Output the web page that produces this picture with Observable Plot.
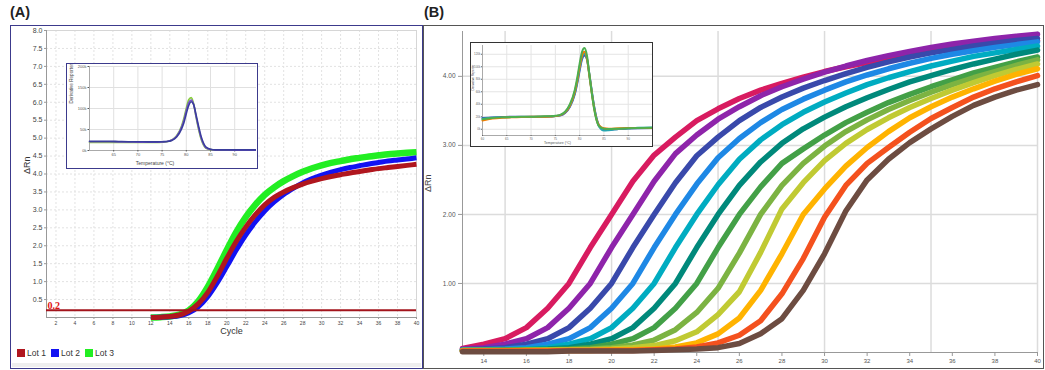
<!DOCTYPE html>
<html><head><meta charset="utf-8">
<script src="https://cdn.jsdelivr.net/npm/d3@7"></script>
<script src="https://cdn.jsdelivr.net/npm/@observablehq/plot@0.6"></script>
<style>
body{margin:0;background:#fff;}
#root{position:relative;width:1045px;height:370px;overflow:hidden;background:#fff;font-family:Arial,"Liberation Sans",sans-serif;}
#root svg{position:absolute;}
</style></head><body><div id="root"></div>
<script>
// ---------- Panel A : amplification curves, three lots ----------
const cyclesA = [12,13,14,15,16,17,18,19,20,21,22,23,24,25,26,27,28,29,30,31,32,33,34,35,36,37,38,39,40];
const lot1 = [0,0.01,0.03,0.07,0.18,0.38,0.7,1.15,1.65,2.12,2.52,2.86,3.14,3.35,3.5,3.62,3.72,3.8,3.87,3.93,3.98,4.03,4.07,4.11,4.15,4.18,4.21,4.24,4.27];
const lot2 = [0,0.01,0.02,0.05,0.13,0.3,0.58,0.97,1.42,1.88,2.3,2.66,2.97,3.22,3.43,3.6,3.75,3.87,3.97,4.05,4.12,4.18,4.23,4.28,4.32,4.36,4.39,4.42,4.45];
const lot3 = [0,0.01,0.03,0.08,0.2,0.45,0.85,1.35,1.88,2.38,2.8,3.14,3.42,3.63,3.8,3.94,4.06,4.16,4.24,4.31,4.36,4.41,4.45,4.49,4.52,4.55,4.57,4.59,4.61];
const lotNames = ["Lot 1","Lot 2","Lot 3"];
const lotColors = ["#b0161e","#1212f2","#22ee22"];
const threshold = 0.2;
const xTicksA = [2,4,6,8,10,12,14,16,18,20,22,24,26,28,30,32,34,36,38,40];
const yTicksA = [0.5,1,1.5,2,2.5,3,3.5,4,4.5,5,5.5,6,6.5,7,7.5,8];

// Panel A inset : melt curves (k)
const tempsA = [60,62,64,66,68,70,72,74,75,76,77,78,79,79.5,80,80.5,81,81.5,82,82.5,83,83.5,84,85,86,88,90,92,95];
const meltA1 = [21,21,21,20.5,20.5,20,20,20,20.5,21.5,25,34,55,72,95,114,120,110,82,55,32,16,7,2.5,1.5,1.2,1,1,1];
const meltA2 = [19,19,19,19,19,19,19,19,19.5,21,25,35,58,77,101,121,126,112,80,52,29,14,6,2,1,1,1,1,1];
const meltA3 = [22,22,22,21.5,21,21,20.5,20.5,21,21.5,24,32,51,66,88,107,116,110,86,60,36,19,9,3,1.5,1.5,1.5,1.5,1.5];
const meltAColors = ["#7a55c8","#86cc3a","#3a3d9c"];
const xTicksInsetA = [65,70,75,80,85,90];
const yTicksInsetA = [0,50,100,150,200];

// ---------- Panel B : dilution series ----------
const cyclesB = [13,14,15,16,17,18,19,20,21,22,23,24,25,26,27,28,29,30,31,32,33,34,35,36,37,38,39,40];
const crimson = [0.06,0.12,0.2,0.36,0.64,1.0,1.52,2.0,2.48,2.86,3.12,3.36,3.53,3.68,3.8,3.9,3.99,4.07,4.14,4.2,4.26,4.31,4.36,4.4,4.43,4.46,4.49,4.52];
const purple = [0.05,0.07,0.12,0.2,0.36,0.64,1.0,1.52,2.0,2.48,2.88,3.15,3.38,3.56,3.72,3.85,3.96,4.06,4.15,4.23,4.3,4.36,4.42,4.47,4.51,4.55,4.58,4.61];
const indigo = [0.04,0.05,0.07,0.12,0.2,0.36,0.64,1.0,1.52,2.0,2.46,2.85,3.12,3.36,3.55,3.7,3.83,3.94,4.04,4.13,4.21,4.28,4.34,4.39,4.44,4.48,4.52,4.55];
const blue = [0.04,0.04,0.05,0.07,0.12,0.2,0.36,0.64,1.0,1.52,2.0,2.44,2.82,3.1,3.33,3.52,3.67,3.8,3.92,4.02,4.11,4.19,4.26,4.32,4.37,4.42,4.46,4.5];
const cyan = [0.03,0.04,0.04,0.05,0.07,0.12,0.2,0.36,0.64,1.0,1.52,2.0,2.43,2.8,3.08,3.3,3.48,3.63,3.76,3.88,3.98,4.07,4.15,4.22,4.29,4.34,4.39,4.44];
const teal = [0.03,0.03,0.04,0.04,0.05,0.07,0.12,0.2,0.36,0.64,1.0,1.52,2.0,2.42,2.76,3.03,3.24,3.41,3.56,3.69,3.81,3.92,4.01,4.1,4.18,4.25,4.32,4.38];
const green = [0.03,0.03,0.03,0.04,0.04,0.05,0.07,0.12,0.2,0.36,0.64,1.0,1.52,2.0,2.4,2.74,2.95,3.15,3.33,3.48,3.62,3.74,3.85,3.95,4.05,4.13,4.21,4.28];
const lightGreen = [0.03,0.03,0.03,0.03,0.04,0.04,0.05,0.07,0.11,0.18,0.33,0.58,0.93,1.44,2.0,2.42,2.74,2.99,3.2,3.37,3.52,3.65,3.77,3.88,3.98,4.07,4.16,4.24];
const lime = [0.03,0.03,0.03,0.03,0.03,0.04,0.04,0.05,0.07,0.1,0.17,0.3,0.55,0.88,1.45,2.08,2.46,2.78,3.03,3.23,3.4,3.55,3.68,3.8,3.91,4.01,4.1,4.18];
const amber = [0.02,0.02,0.02,0.03,0.03,0.03,0.03,0.04,0.04,0.05,0.08,0.14,0.27,0.5,0.9,1.43,2.0,2.37,2.7,2.97,3.2,3.4,3.56,3.7,3.82,3.93,4.03,4.11];
const deepOrange = [0.02,0.02,0.02,0.02,0.02,0.03,0.03,0.03,0.03,0.04,0.05,0.08,0.14,0.25,0.46,0.85,1.36,1.96,2.42,2.74,2.97,3.19,3.39,3.55,3.7,3.82,3.92,4.01];
const brown = [0.01,0.01,0.01,0.01,0.01,0.02,0.02,0.02,0.02,0.03,0.04,0.05,0.07,0.13,0.27,0.49,0.9,1.43,2.05,2.5,2.8,3.04,3.24,3.42,3.58,3.7,3.8,3.88];
const seriesB = [crimson,purple,indigo,blue,cyan,teal,green,lightGreen,lime,amber,deepOrange,brown];
const colorsB = ["#d81b60","#8e24aa","#3949ab","#1e88e5","#00acc1","#00897b","#43a047","#7cb342","#c0ca33","#ffb300","#f4511e","#6d4c41"];
const xTicksB = [14,16,18,20,22,24,26,28,30,32,34,36,38,40];
const xGridB = [15,20,25,30,35,40];
const yTicksB = [1,2,3,4];

// Panel B inset : melt curves (k)
const tempsB = [60,62,64,66,68,70,72,74,75,76,77,78,79,79.5,80,80.5,81,81.5,82,82.5,83,83.5,84,85,86,88,90,92,95];
const meltB1 = [16,18,19,19.5,20,20,20.5,21,21.5,23,28,40,63,82,105,124,130,118,88,58,32,14,5,1,0.5,1,1.5,2,2.5];
const meltB2 = [14,17,18.5,19,19.5,20,20,20.5,21,22.5,27,38,60,78,100,118,124,114,86,58,33,15,6,1.5,1,1.5,2,2,2];
const meltB3 = [18,19,19.5,20,20,20,20,20.5,21,22,26,36,56,73,94,112,118,112,88,61,36,17,6,0,-1,0.5,1,1.5,2];
const meltB4 = [17,18.5,19,19.5,19.5,19.5,20,20.5,21,22.5,27,37,58,76,97,115,121,113,87,60,35,16,4,-2,-1.5,0.5,1.5,2.5,3];
const meltBColors = ["#4caf50","#f57c00","#3f51b5","#26a6b0"];
const xTicksInsetB = [60,65,70,75,80,85,90];
const yTicksInsetB = [0,20,40,60,80,100,120];

// ---------- helpers ----------
const root = document.getElementById("root");
const FONT = "Arial, 'Liberation Sans', sans-serif";
function box(left, top, w, h, css) {
  const d = document.createElement("div");
  d.style.cssText = `position:absolute;left:${left}px;top:${top}px;width:${w}px;height:${h}px;box-sizing:border-box;${css}`;
  root.appendChild(d); return d;
}
function txt(s, left, top, css) {
  const d = document.createElement("div");
  d.textContent = s;
  d.style.cssText = `position:absolute;left:${left}px;top:${top}px;white-space:nowrap;${css}`;
  root.appendChild(d); return d;
}
function put(svg, left, top) { svg.style.left = left + "px"; svg.style.top = top + "px"; root.appendChild(svg); }

// Panel labels & frames
txt("(A)", 10, 4, "font-size:14.5px;font-weight:bold;color:#222;");
txt("(B)", 424, 4, "font-size:14.5px;font-weight:bold;color:#222;");
box(423, 25, 621, 344, "border:1.5px solid #555;");
box(10, 25, 413, 344, "border:1.5px solid #3c3a8c;background:#fff;");
box(12, 363, 409, 4, "background:#eeeeee;");

// ---------- Plot A ----------
const rowsA = cyclesA.flatMap((c, i) => [
  {lot: lotNames[0], cycle: c, rn: lot1[i]},
  {lot: lotNames[1], cycle: c, rn: lot2[i]},
  {lot: lotNames[2], cycle: c, rn: lot3[i]}
]);
const plotA = Plot.plot({
  width: 410, height: 341,
  marginLeft: 35, marginRight: 5, marginTop: 4, marginBottom: 50,
  style: {background: "transparent", fontFamily: FONT, color: "#444"},
  x: {domain: [1, 40]},
  y: {domain: [0, 8]},
  marks: [
    Plot.gridX({ticks: xTicksA, stroke: "#e2e2e2", strokeOpacity: 1, strokeDasharray: "2,2"}),
    Plot.gridY({ticks: yTicksA, stroke: "#e2e2e2", strokeOpacity: 1, strokeDasharray: "2,2"}),
    Plot.frame({stroke: "#d6d6d6"}),
    Plot.ruleX([1], {stroke: "#999"}),
    Plot.ruleY([0], {stroke: "#999"}),
    Plot.axisX({ticks: xTicksA, tickSize: 2, tickPadding: 2, fontSize: 5, label: null, stroke: "#999"}),
    Plot.axisY({ticks: yTicksA, tickSize: 2, tickPadding: 2, fontSize: 7, label: null, tickFormat: d3.format(".1f"), stroke: "#999"}),
    Plot.line(rowsA.filter(d => d.lot === lotNames[2]), {x: "cycle", y: "rn", stroke: lotColors[2], strokeWidth: 6.5, strokeLinecap: "butt", curve: "monotone-x"}),
    Plot.line(rowsA.filter(d => d.lot === lotNames[1]), {x: "cycle", y: "rn", stroke: lotColors[1], strokeWidth: 5, strokeLinecap: "butt", curve: "monotone-x"}),
    Plot.line(rowsA.filter(d => d.lot === lotNames[0]), {x: "cycle", y: "rn", stroke: lotColors[0], strokeWidth: 5, strokeLinecap: "butt", curve: "monotone-x"}),
    Plot.ruleY([threshold], {stroke: "#a3141c", strokeWidth: 2}),
    Plot.text([threshold], {x: 1, y: threshold, text: d => String(d), textAnchor: "start", lineAnchor: "bottom", dx: 1, dy: -1, fill: "#e01010", fontSize: 10, fontWeight: "bold", fontFamily: "'Liberation Serif','Times New Roman',serif"}),
    Plot.text(["Cycle"], {frameAnchor: "bottom", text: d => d, dy: 16, fontSize: 9, fill: "#333"}),
    Plot.text(["ΔRn"], {frameAnchor: "left", text: d => d, dx: -19, rotate: -90, fontSize: 9, fill: "#333"})
  ]
});
put(plotA, 11, 26);

// Legend A
lotNames.forEach((n, i) => {
  const x0 = [17, 51, 85][i];
  box(x0, 349, 8, 8, `background:${lotColors[i]};`);
  txt(n, x0 + 10, 348, "font-size:8.5px;line-height:10px;color:#333;");
});

// Inset A
box(66, 63, 192, 106, "border:1.5px solid #3c3a8c;background:#fff;");
const rowsInsetA = tempsA.flatMap((t, i) => [
  {s: 0, t, v: meltA1[i]}, {s: 1, t, v: meltA2[i]}, {s: 2, t, v: meltA3[i]}
]);
const insetA = Plot.plot({
  width: 189, height: 103,
  marginLeft: 22, marginRight: 0, marginTop: 2, marginBottom: 17,
  style: {background: "transparent", fontFamily: FONT, color: "#555"},
  x: {domain: [60, 94.5]},
  y: {domain: [0, 200]},
  marks: [
    Plot.gridX({ticks: xTicksInsetA, stroke: "#e0e0e0", strokeOpacity: 1}),
    Plot.gridY({ticks: yTicksInsetA, stroke: "#e0e0e0", strokeOpacity: 1}),
    Plot.ruleX([60], {stroke: "#aaa"}),
    Plot.ruleY([0], {stroke: "#aaa"}),
    Plot.axisX({ticks: xTicksInsetA, tickSize: 1.5, tickPadding: 1.5, fontSize: 4, label: null}),
    Plot.axisY({ticks: yTicksInsetA, tickSize: 1.5, tickPadding: 1.5, fontSize: 4, label: null, tickFormat: d => d + "k"}),
    ...[1, 0, 2].map(s => Plot.line(rowsInsetA.filter(d => d.s === s), {x: "t", y: "v", stroke: meltAColors[s], strokeWidth: 1.6, curve: "monotone-x"})),
    Plot.text(["Temperature (°C)"], {frameAnchor: "bottom", text: d => d, dy: 14, dx: -18, fontSize: 5, fill: "#444"}),
    Plot.text(["Derivative Reporter"], {frameAnchor: "left", text: d => d, dx: -18, dy: -5, rotate: -90, fontSize: 4.6, fill: "#444"})
  ]
});
put(insetA, 67, 64);

// ---------- Plot B ----------
const rowsB = seriesB.flatMap((vals, g) => cyclesB.map((c, i) => ({g, cycle: c, rn: vals[i]})));
const plotB = Plot.plot({
  width: 619, height: 342,
  marginLeft: 38, marginRight: 6, marginTop: 5, marginBottom: 16,
  style: {background: "transparent", fontFamily: FONT, color: "#555"},
  x: {domain: [13, 40]},
  y: {domain: [0, 4.65]},
  marks: [
    Plot.gridX({ticks: xGridB, stroke: "#dcdcdc", strokeOpacity: 1, strokeWidth: 1.5}),
    Plot.gridY({ticks: yTicksB, stroke: "#dcdcdc", strokeOpacity: 1, strokeWidth: 1.5}),
    Plot.ruleX([13], {stroke: "#999"}),
    Plot.ruleY([0], {stroke: "#999"}),
    Plot.axisX({ticks: xTicksB, tickSize: 4, tickPadding: 2, fontSize: 6, label: null, stroke: "#999"}),
    Plot.axisY({ticks: yTicksB, tickSize: 4, tickPadding: 3, fontSize: 6.5, label: null, tickFormat: d3.format(".2f"), stroke: "#999"}),
    ...seriesB.map((_, g) => Plot.line(rowsB.filter(d => d.g === g), {x: "cycle", y: "rn", stroke: colorsB[g], strokeWidth: 5.5, strokeLinejoin: "round"})),
    Plot.text(["ΔRn"], {frameAnchor: "left", text: d => d, dx: -34, rotate: -90, fontSize: 9, fill: "#444"})
  ]
});
put(plotB, 424, 26);

// Inset B
box(470, 42, 183, 105, "border:1.5px solid #333;background:#fff;");
const rowsInsetB = tempsB.flatMap((t, i) => [
  {s: 0, t, v: meltB1[i]}, {s: 1, t, v: meltB2[i]}, {s: 2, t, v: meltB3[i]}, {s: 3, t, v: meltB4[i]}
]);
const insetB = Plot.plot({
  width: 181, height: 103,
  marginLeft: 11, marginRight: 0, marginTop: 2, marginBottom: 11,
  style: {background: "transparent", fontFamily: FONT, color: "#666"},
  x: {domain: [60, 95]},
  y: {domain: [-10, 134]},
  marks: [
    Plot.gridX({ticks: xTicksInsetB, stroke: "#e4e4e4", strokeOpacity: 1}),
    Plot.gridY({ticks: yTicksInsetB, stroke: "#e4e4e4", strokeOpacity: 1}),
    Plot.ruleX([60], {stroke: "#aaa"}),
    Plot.ruleY([-10], {stroke: "#aaa"}),
    Plot.axisX({ticks: xTicksInsetB, tickSize: 1, tickPadding: 1, fontSize: 3, label: null}),
    Plot.axisY({ticks: yTicksInsetB, tickSize: 1, tickPadding: 1, fontSize: 3, label: null, tickFormat: d => d + "k"}),
    ...[2, 3, 1, 0].map(s => Plot.line(rowsInsetB.filter(d => d.s === s), {x: "t", y: "v", stroke: meltBColors[s], strokeWidth: 2, curve: "monotone-x"})),
    Plot.text(["Temperature (°C)"], {frameAnchor: "bottom", text: d => d, dy: 8, dx: -10, fontSize: 3.5, fill: "#555"}),
    Plot.text(["Derivative Reporter"], {frameAnchor: "left", text: d => d, dx: -9, rotate: -90, fontSize: 3, fill: "#555"})
  ]
});
put(insetB, 471, 43);
</script>
</body></html>
